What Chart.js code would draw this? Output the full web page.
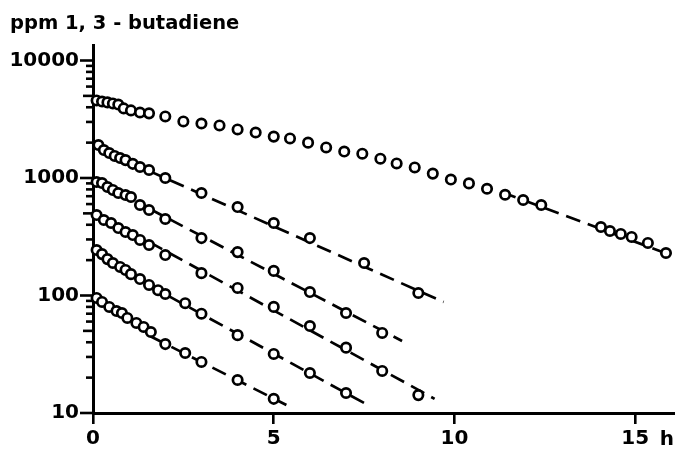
<!DOCTYPE html>
<html><head><meta charset="utf-8">
<script src="https://cdn.jsdelivr.net/npm/chart.js@4.4.0/dist/chart.umd.min.js"></script>
<style>html,body{margin:0;padding:0;background:#fff;overflow:hidden}canvas{display:block}</style>
</head><body>
<canvas id="c" width="675" height="452"></canvas>
<script>
// ---- text ----
const titleText = 'ppm 1, 3 - butadiene';
const xUnit = 'h';
// ---- axis ticks ----
const xTicks = [0, 5, 10, 15];
const yTicks = [10, 100, 1000, 10000];
// ---- series (time in h, concentration in ppm) ----
const t1 = [0.1,0.25,0.4,0.55,0.7,0.85,1.05,1.3,1.55,2,2.5,3,3.5,4,4.5,5,5.45,5.95,6.45,6.95,7.45,7.95,8.4,8.9,9.4,9.9,10.4,10.9,11.4,11.9,12.4,14.05,14.3,14.6,14.9,15.35,15.85];
const c1 = [4570,4480,4400,4310,4220,3910,3760,3610,3550,3340,3030,2910,2800,2590,2440,2250,2170,2000,1820,1680,1610,1460,1330,1230,1090,970,900,810,720,650,589,383,354,334,315,280,230];
const t2 = [0.15,0.3,0.45,0.6,0.75,0.9,1.1,1.3,1.55,2,3,4,5,6,7.5,9];
const c2 = [1910,1730,1630,1540,1480,1420,1320,1240,1170,1000,745,566,414,308,189,105];
const t3 = [0.1,0.25,0.4,0.55,0.7,0.9,1.05,1.3,1.55,2,3,4,5,6,7,8];
const c3 = [925,906,838,791,745,717,689,589,534,448,308,234,162,107,71,48];
const t4 = [0.1,0.3,0.5,0.7,0.9,1.1,1.3,1.55,2,3,4,5,6,7,8,9];
const c4 = [484,439,414,375,347,327,297,269,221,155,116,80,55,36,22.8,14.2];
const t5 = [0.1,0.25,0.4,0.55,0.75,0.9,1.05,1.3,1.55,1.8,2,2.55,3,4,5,6,7];
const c5 = [244,225,204,189,175,165,152,138,123,111,103,86,70,46,31.8,21.9,14.8];
const t6 = [0.1,0.25,0.45,0.65,0.8,0.95,1.2,1.4,1.6,2,2.55,3,4,5];
const c6 = [95.3,88.1,79.9,73.8,71.0,64.4,58.4,54.0,48.9,38.6,32.4,27.2,19.1,13.2];
// ---- fitted dashed lines (start/end) ----
const fitT1 = [11.3, 15.9];  const fitC1 = [760, 226];
const fitT2 = [1.55, 9.7];   const fitC2 = [1150, 88];
const fitT3 = [1.55, 8.55];  const fitC3 = [550, 41];
const fitT4 = [1.55, 9.45];  const fitC4 = [286, 13.2];
const fitT5 = [1.55, 7.6];   const fitC5 = [122, 11.7];
const fitT6 = [1.6, 5.35];   const fitC6 = [44.8, 11.7];

const pts = (t, c) => t.map((v, i) => ({x: v, y: c[i]}));
const FONT = '"DejaVu Sans", "Liberation Sans", sans-serif';

const pointSets = [[t1,c1],[t2,c2],[t3,c3],[t4,c4],[t5,c5],[t6,c6]].map(([t,c]) => ({
  data: pts(t, c), showLine: false, pointStyle: 'circle', pointRadius: 4.7,
  pointBorderWidth: 2.7, pointBackgroundColor: '#fff', pointBorderColor: '#000',
  order: 0, clip: false
}));
const lineSets = [[fitT1,fitC1],[fitT2,fitC2],[fitT3,fitC3],[fitT4,fitC4],[fitT5,fitC5],[fitT6,fitC6]].map(([t,c]) => ({
  data: pts(t, c), showLine: true, pointRadius: 0, borderColor: '#000', borderWidth: 2.7,
  borderDash: [15, 8], fill: false, order: 1
}));

const decor = {
  id: 'decor',
  afterDraw(chart) {
    const {ctx, scales: {x, y}, chartArea} = chart;
    ctx.save();
    ctx.strokeStyle = '#000';
    ctx.lineWidth = 2.6;
    const left = chartArea.left;
    for (const d of yTicks) {
      for (let m = 1; m <= 9; m++) {
        const v = d * m;
        if (v > yTicks[yTicks.length - 1]) break;
        const py = y.getPixelForValue(v);
        const len = m === 1 ? 13 : (m === 5 ? 10 : 7);
        ctx.beginPath(); ctx.moveTo(left - len, py); ctx.lineTo(left, py); ctx.stroke();
      }
    }
    ctx.fillStyle = '#000';
    ctx.font = 'bold 19.5px ' + FONT;
    ctx.textAlign = 'left'; ctx.textBaseline = 'alphabetic';
    ctx.fillText(titleText, 10, 29);
    ctx.font = 'bold 20px ' + FONT;
    ctx.textAlign = 'right';
    ctx.fillText(xUnit, 674, 445);
    ctx.restore();
  }
};

new Chart(document.getElementById('c'), {
  type: 'scatter',
  data: {datasets: [...pointSets, ...lineSets]},
  options: {
    responsive: false, animation: false, devicePixelRatio: 1,
    layout: {autoPadding: false, padding: {top: 45, left: 0, right: 0, bottom: 0}},
    plugins: {legend: {display: false}, tooltip: {enabled: false}},
    scales: {
      x: {
        type: 'linear', min: 0, max: 16.1,
        afterBuildTicks: s => { s.ticks = xTicks.map(v => ({value: v})); },
        afterFit: s => { s.height = 39; },
        grid: {drawOnChartArea: false, drawTicks: true, tickLength: 11, color: '#000', lineWidth: 2.6},
        border: {display: true, color: '#000', width: 3},
        ticks: {padding: 3, color: '#000', maxRotation: 0, autoSkip: false,
                font: {family: FONT, size: 20, weight: 'bold'}}
      },
      y: {
        type: 'logarithmic', min: 10, max: 13550,
        afterBuildTicks: s => { s.ticks = yTicks.map(v => ({value: v})); },
        afterFit: s => { s.width = 93; },
        grid: {drawOnChartArea: false, drawTicks: true, tickLength: 13, color: 'rgba(0,0,0,0)'},
        border: {display: true, color: '#000', width: 3},
        ticks: {padding: 1, color: '#000', callback: v => String(v),
                font: {family: FONT, size: 20, weight: 'bold'}}
      }
    }
  },
  plugins: [decor]
});
</script>
</body></html>
